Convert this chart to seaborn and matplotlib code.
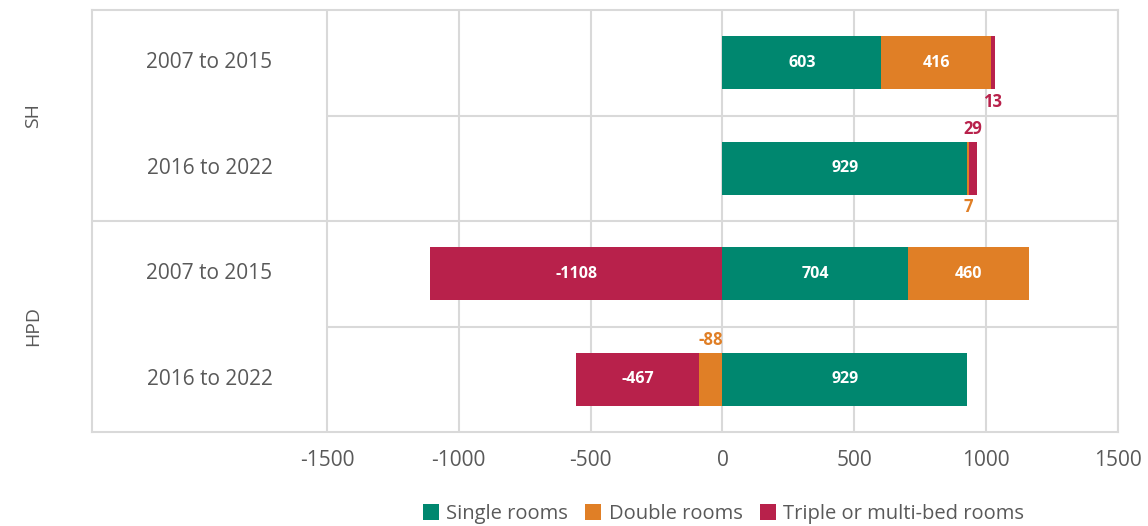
import numpy as np
import pandas as pd
import matplotlib.pyplot as plt
from matplotlib.lines import Line2D
import seaborn as sns

# ------- DATA ---------
groups = ["SH", "SH", "HPD", "HPD"]
periods = ["2007 to 2015", "2016 to 2022", "2007 to 2015", "2016 to 2022"]
series_names = ["Single rooms", "Double rooms", "Triple or multi-bed rooms"]
single = [603, 929, 704, 929]
double = [416, 7, 460, -88]
triple = [13, 29, -1108, -467]

colors = ["#00876f", "#e07f26", "#b8214b"]
text_grey = "#595959"
grid_grey = "#d9d9d9"

# small segments get their label outside the bar: (row, series) -> -1 above, +1 below
outside_side = {(0, 2): 1, (1, 1): 1, (1, 2): -1, (3, 1): -1}

sns.set_style("white")
plt.rcParams['font.family'] = ['Open Sans', 'DejaVu Sans']

rows = [f"{g} {p}" for g, p in zip(groups, periods)]
values = np.array([single, double, triple], dtype=float)

# stacked extents, positives to the right and negatives to the left
starts = np.zeros_like(values)
ends = np.zeros_like(values)
pos = np.zeros(len(rows))
neg = np.zeros(len(rows))
for k in range(len(series_names)):
    for i in range(len(rows)):
        v = values[k, i]
        if v >= 0:
            starts[k, i] = pos[i]
            pos[i] += v
            ends[k, i] = pos[i]
        else:
            starts[k, i] = neg[i]
            neg[i] += v
            ends[k, i] = neg[i]

# ------- PLOT ---------
fig = plt.figure(figsize=(11.48, 5.26), dpi=100)
ax = fig.add_axes([92 / 1148, 1 - 432 / 526, 1026 / 1148, 422 / 526])

# draw outermost segment first so the inner ones overlap it
for k in reversed(range(len(series_names))):
    for side in (1, -1):
        lengths = [ends[k, i] if np.sign(values[k, i]) == side else 0.0 for i in range(len(rows))]
        df = pd.DataFrame({"row": rows, "value": lengths})
        sns.barplot(data=df, x="value", y="row", order=rows, orient="h", color=colors[k],
                    saturation=1, width=0.5, linewidth=0, errorbar=None, ax=ax, zorder=3)

# value labels
for k in range(len(series_names)):
    for i in range(len(rows)):
        v = values[k, i]
        mid = (starts[k, i] + ends[k, i]) / 2
        if (i, k) in outside_side:
            ax.text(mid, i + 0.37 * outside_side[(i, k)], f"{int(v)}", ha="center", va="center",
                    color=colors[k], fontsize=12, fontweight="bold", zorder=5)
        else:
            ax.text(mid, i, f"{int(v)}", ha="center", va="center",
                    color="white", fontsize=11.5, fontweight="bold", zorder=5)

label_w = 891
xmin = -1500 - label_w
ax.set_xlim(xmin, 1500)
ax.set_ylim(3.5, -0.5)
ax.set_xticks([-1500, -1000, -500, 0, 500, 1000, 1500])
ax.set_xticklabels(["-1500", "-1000", "-500", "0", "500", "1000", "1500"])
ax.set_yticks([])
ax.set_xlabel("")
ax.set_ylabel("")
ax.tick_params(axis="x", length=0, pad=13, labelsize=15, labelcolor=text_grey)

ax.grid(axis="x", color=grid_grey, linewidth=1.5, zorder=0)
ax.set_axisbelow(True)
ax.hlines([0.5, 2.5], -1500, 1500, color=grid_grey, linewidth=1.5, zorder=1)
ax.hlines([1.5], xmin, 1500, color=grid_grey, linewidth=1.5, zorder=1)
for s in ax.spines.values():
    s.set_color(grid_grey)
    s.set_linewidth(1.5)

# period and group labels
for i, p in enumerate(periods):
    ax.text((xmin - 1500) / 2, i, p, ha="center", va="center", fontsize=15, color=text_grey)
for j, g in enumerate(["SH", "HPD"]):
    ax.text(-0.0575, 1 - (2 * j + 1) / 4, g, transform=ax.transAxes, rotation=90,
            ha="center", va="center", fontsize=14, color=text_grey)

handles = [Line2D([0], [0], marker="s", linestyle="none", markersize=12,
                  markerfacecolor=c, markeredgewidth=0) for c in colors]
leg = fig.legend(handles, series_names, loc="center", bbox_to_anchor=(723 / 1148, 1 - 514 / 526),
                 ncol=3, frameon=False, handletextpad=0.3, columnspacing=0.8, handlelength=0.9,
                 prop={"size": 14.5})
for t in leg.get_texts():
    t.set_color(text_grey)

plt.savefig("out.png", dpi=100)
plt.close()
